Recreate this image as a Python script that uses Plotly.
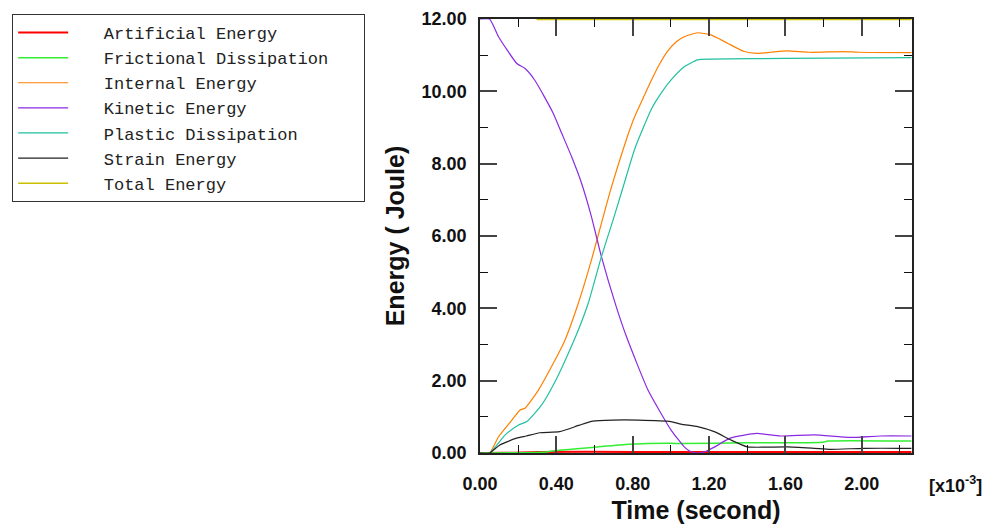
import plotly.graph_objects as go

# time in units of 1e-3 s
t_art = [0.0, 0.05, 0.17, 0.30, 0.80, 1.40, 2.26]
e_art = [0.0, 0.0, 0.01, 0.03, 0.03, 0.03, 0.03]

t_fric = [0.0, 0.05, 0.35, 0.40, 0.60, 0.78, 1.00, 1.05, 1.40, 1.80, 1.82, 2.26]
e_fric = [0.0, 0.0, 0.03, 0.07, 0.16, 0.24, 0.27, 0.26, 0.28, 0.30, 0.33, 0.33]

t_int = [0.0, 0.05, 0.097, 0.167, 0.21, 0.236, 0.306, 0.384, 0.445, 0.515, 0.584, 0.636,
         0.68, 0.723, 0.775, 0.81, 0.862, 0.897, 0.94, 0.984, 1.03, 1.07, 1.14, 1.21,
         1.297, 1.384, 1.453, 1.523, 1.61, 1.73, 1.905, 1.99, 2.26]
e_int = [0.0, 0.0, 0.45, 0.91, 1.19, 1.24, 1.74, 2.48, 3.12, 4.14, 5.34, 6.35,
         7.2, 7.95, 8.8, 9.3, 9.9, 10.3, 10.75, 11.12, 11.38, 11.51, 11.62, 11.56,
         11.33, 11.1, 11.05, 11.08, 11.12, 11.08, 11.1, 11.08, 11.07]

t_kin = [0.0, 0.05, 0.097, 0.193, 0.236, 0.288, 0.384, 0.428, 0.48, 0.532, 0.584, 0.636,
         0.714, 0.767, 0.88, 1.0, 1.07, 1.10, 1.14, 1.18, 1.23, 1.31, 1.45, 1.575,
         1.75, 1.94, 2.1, 2.26]
e_kin = [12.0, 12.0, 11.51, 10.77, 10.63, 10.3, 9.39, 8.84, 8.19, 7.46, 6.53, 5.43,
         4.04, 3.22, 1.74, 0.64, 0.17, 0.05, 0.0, 0.04, 0.17, 0.41, 0.54, 0.47,
         0.5, 0.43, 0.47, 0.47]

t_pla = [0.0, 0.05, 0.132, 0.20, 0.245, 0.323, 0.393, 0.463, 0.515, 0.567, 0.636, 0.697,
         0.758, 0.81, 0.897, 0.949, 1.0, 1.07, 1.14, 1.21, 1.6, 2.26]
e_pla = [0.0, 0.0, 0.5, 0.77, 0.87, 1.33, 1.97, 2.76, 3.4, 4.14, 5.43, 6.44,
         7.5, 8.4, 9.5, 9.95, 10.31, 10.68, 10.87, 10.89, 10.91, 10.93]

t_str = [0.0, 0.05, 0.104, 0.191, 0.243, 0.313, 0.417, 0.521, 0.591, 0.695, 0.828, 1.0,
         1.053, 1.14, 1.227, 1.314, 1.4, 1.49, 1.61, 1.75, 1.836, 2.01, 2.2, 2.26]
e_str = [0.0, 0.0, 0.22, 0.41, 0.47, 0.56, 0.59, 0.77, 0.88, 0.91, 0.91, 0.87,
         0.8, 0.73, 0.59, 0.36, 0.17, 0.16, 0.17, 0.13, 0.10, 0.13, 0.13, 0.13]

t_tot = [0.0, 0.30, 0.30, 2.26]
e_tot = [12.03, 12.03, 11.985, 11.985]

series = [
    ("Artificial Energy", t_art, e_art, "#ff0000", 2.0),
    ("Frictional Dissipation", t_fric, e_fric, "#33ee33", 1.5),
    ("Internal Energy", t_int, e_int, "#ff8000", 1.2),
    ("Kinetic Energy", t_kin, e_kin, "#8a2be2", 1.2),
    ("Plastic Dissipation", t_pla, e_pla, "#20c0a0", 1.2),
    ("Strain Energy", t_str, e_str, "#222222", 1.2),
    ("Total Energy", t_tot, e_tot, "#c8c000", 1.5),
]

fig = go.Figure()
for name, tx, ey, col, w in series:
    shape = "linear" if name == "Total Energy" else "spline"
    fig.add_trace(go.Scatter(x=tx, y=ey, mode="lines", name="   " + name + "   ",
                             line=dict(color=col, width=w, shape=shape, smoothing=0.5)))

axis_common = dict(
    showgrid=False, zeroline=False, showline=True, linecolor="#222", linewidth=1.5,
    mirror="ticks", ticks="inside", ticklen=17, tickwidth=1.5, tickcolor="#444",
    tickformat=".2f", automargin=False,
    tickfont=dict(family="Liberation Sans, Arial", size=18, color="#111", weight="bold"),
)

fig.update_xaxes(range=[0, 2.263], dtick=0.4, tick0=0, ticklabelstandoff=14,
                 minor=dict(dtick=0.2, ticklen=8, ticks="inside", tickcolor="#111", tickwidth=1.2),
                 title=dict(text="Time (second)", font=dict(family="Liberation Sans, Arial", size=25,
                                                            color="#111", weight="bold"), standoff=8),
                 **axis_common)
fig.update_yaxes(range=[0, 12], dtick=2, tick0=0, ticklabelstandoff=8,
                 minor=dict(dtick=1, ticklen=8, ticks="inside", tickcolor="#111", tickwidth=1.2),
                 title=dict(text="Energy ( Joule)", font=dict(family="Liberation Sans, Arial", size=25,
                                                              color="#111", weight="bold"), standoff=10),
                 **axis_common)

fig.add_annotation(text="[x10<sup>-3</sup>]", xref="paper", yref="paper", x=1.035, y=0,
                   xanchor="left", yanchor="top", yshift=-18, showarrow=False,
                   font=dict(family="Liberation Sans, Arial", size=18, color="#111", weight="bold"))

fig.update_layout(
    width=987, height=528,
    margin=dict(l=478, r=75, t=19, b=75),
    plot_bgcolor="white", paper_bgcolor="white",
    legend=dict(x=-1.083, y=1.0115, xanchor="left", yanchor="top",
                bgcolor="white", bordercolor="#333", borderwidth=1,
                font=dict(family="Liberation Mono, Courier New, monospace", size=17, color="#222"),
                itemwidth=50, tracegroupgap=0),
)

fig.write_html("out.html")
